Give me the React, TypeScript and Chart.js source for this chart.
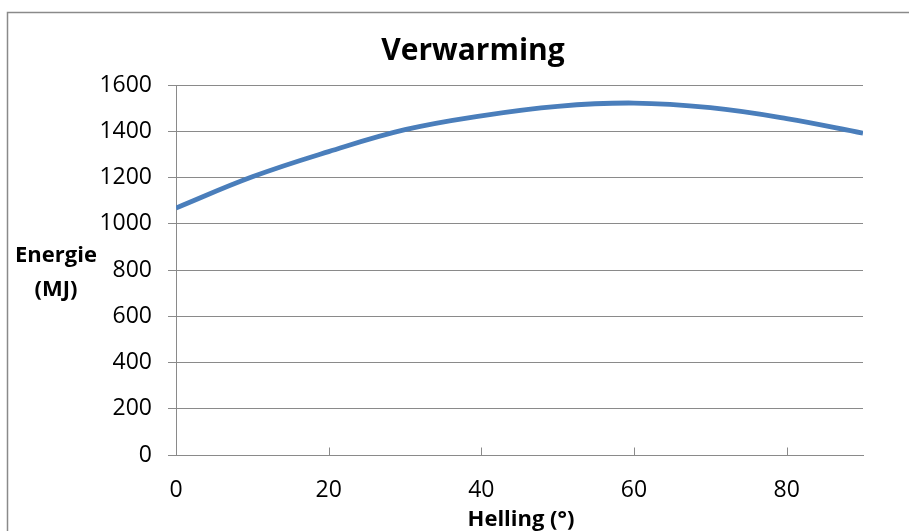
import React, { useEffect, useRef } from "react";
import { Chart, registerables } from "chart.js";

Chart.register(...registerables);

const title = "Verwarming";
const xTitle = "Helling (°)";
const yTitleLines = ["Energie", "(MJ)"];
const hellingDeg = [0, 10, 20, 30, 40, 50, 60, 70, 80, 90];
const energieMJ = [1068, 1203, 1312, 1407, 1467, 1508, 1522, 1502, 1455, 1392];
const xTickValues = [0, 20, 40, 60, 80];

const FONT = "'Open Sans', sans-serif";
const GRID = "#8a8a8a";

const decor = {
  id: "decor",
  beforeDraw(chart: any) {
    const ctx = chart.ctx;
    ctx.save();
    ctx.strokeStyle = "#8a8a8a";
    ctx.lineWidth = 1.5;
    ctx.strokeRect(7.5, 12.5, 1000, 1000);
    ctx.restore();
  },
  afterDraw(chart: any) {
    const ctx = chart.ctx;
    const xs = chart.scales.x;
    const ys = chart.scales.y;
    ctx.save();
    ctx.strokeStyle = GRID;
    ctx.lineWidth = 1;
    const yb = Math.round(ys.getPixelForValue(0)) + 0.5;
    xTickValues.forEach((v) => {
      const px = Math.round(xs.getPixelForValue(v)) + 0.5;
      ctx.beginPath();
      ctx.moveTo(px, yb);
      ctx.lineTo(px, yb - 8);
      ctx.stroke();
    });
    ctx.fillStyle = "#000";
    ctx.textAlign = "center";
    ctx.textBaseline = "middle";
    ctx.font = `bold 30px ${FONT}`;
    ctx.fillText(title, 473, 51);
    ctx.font = `bold 22px ${FONT}`;
    ctx.fillText(xTitle, 521, 520);
    ctx.fillText(yTitleLines[0], 56, 256);
    ctx.fillText(yTitleLines[1], 56, 290);
    ctx.restore();
  },
};

export default function App() {
  const ref = useRef<HTMLCanvasElement>(null);
  useEffect(() => {
    const chart = new Chart(ref.current!, {
      type: "line",
      data: {
        datasets: [
          {
            data: hellingDeg.map((x, i) => ({ x, y: energieMJ[i] })),
            borderColor: "#4a7ebb",
            borderWidth: 4.8,
            pointRadius: 0,
            tension: 0.4,
            fill: false,
          },
        ],
      },
      options: {
        responsive: false,
        animation: false,
        layout: { padding: { top: 85, right: 46, left: 0, bottom: 0 } },
        plugins: { legend: { display: false }, tooltip: { enabled: false } },
        scales: {
          x: {
            type: "linear",
            min: 0,
            max: 90,
            ticks: {
              stepSize: 20,
              color: "#000",
              font: { family: FONT, size: 23 },
              padding: 22,
              maxRotation: 0,
              callback: (v: any) => String(v),
            },
            afterBuildTicks: (s: any) => {
              s.ticks = xTickValues.map((v) => ({ value: v }));
            },
            grid: { display: true, drawOnChartArea: false, drawTicks: false, color: GRID },
            border: { display: true, color: GRID, width: 1 },
            afterFit: (s: any) => {
              s.height = 531 - 455;
            },
          },
          y: {
            min: 0,
            max: 1600,
            ticks: {
              stepSize: 200,
              color: "#000",
              font: { family: FONT, size: 23 },
              padding: 16,
              callback: (v: any) => String(v),
            },
            grid: { color: GRID, lineWidth: 1, tickLength: 8 },
            border: { display: true, color: GRID, width: 1 },
            afterFit: (s: any) => {
              s.width = 176;
            },
          },
        },
      },
      plugins: [decor],
    });
    return () => chart.destroy();
  }, []);
  return (
    <div style={{ position: "absolute", left: 0, top: 0, width: 909, height: 531, background: "#fff" }}>
      <canvas ref={ref} width={909} height={531} />
    </div>
  );
}
